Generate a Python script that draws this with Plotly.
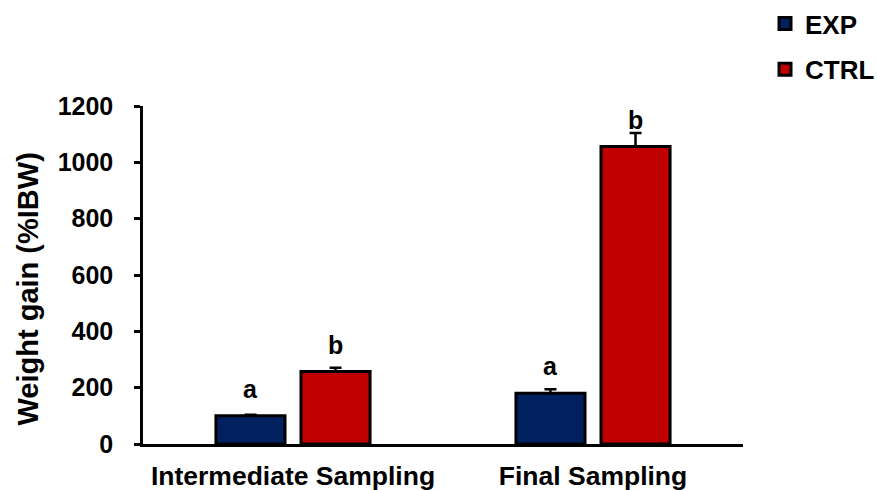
import plotly.graph_objects as go

categories = ["Intermediate Sampling", "Final Sampling"]
series_names = ["EXP", "CTRL"]
exp_values = [100, 180]
exp_errors = [4, 14]
ctrl_values = [257, 1056]
ctrl_errors = [14, 48]
exp_letters = ["a", "a"]
ctrl_letters = ["b", "b"]
y_ticks = [0, 200, 400, 600, 800, 1000, 1200]

EXP_COLOR = "#002060"
CTRL_COLOR = "#C00000"
FONT = "Liberation Sans, Arial, sans-serif"

fig = go.Figure()
for name, vals, errs, color in [
    (series_names[0], exp_values, exp_errors, EXP_COLOR),
    (series_names[1], ctrl_values, ctrl_errors, CTRL_COLOR),
]:
    fig.add_trace(go.Bar(
        name=name, x=categories, y=vals, legendgroup=name,
        marker=dict(color=color, line=dict(color="black", width=3)),
        error_y=dict(type="data", array=errs, arrayminus=[0] * len(errs),
                     symmetric=False, color="black", thickness=2.5, width=6),
    ))

# significance letters
for letters, vals, shift in [(exp_letters, exp_values, -42.5), (ctrl_letters, ctrl_values, 42.5)]:
    for cat, v, t in zip(categories, vals, letters):
        fig.add_annotation(x=cat, y=v, xref="x", yref="y", text=t, showarrow=False,
                           xshift=shift, yshift=11, yanchor="bottom",
                           font=dict(family=FONT, size=25, color="black", weight="bold"))

fig.add_annotation(text="Weight gain (%IBW)", xref="paper", yref="paper",
                   x=-0.1925, y=0.4586, textangle=-90, showarrow=False,
                   xanchor="center", yanchor="middle",
                   font=dict(family=FONT, size=29, color="black", weight="bold"))

fig.update_layout(
    width=877, height=490,
    margin=dict(l=143, r=134, t=106, b=46, autoexpand=False),
    paper_bgcolor="white", plot_bgcolor="white",
    barmode="group", bargap=0.433, bargroupgap=0.188,
    font=dict(family=FONT, color="black"),
    legend=dict(xref="container", yref="container", x=0.8723, y=1.0,
                xanchor="left", yanchor="top",
                font=dict(family=FONT, size=26, color="black", weight="bold"),
                tracegroupgap=9, itemwidth=30, bgcolor="rgba(0,0,0,0)"),
    showlegend=True,
)
fig.update_xaxes(showline=True, linecolor="black", linewidth=2.5, ticks="",
                 tickfont=dict(family=FONT, size=26.5, color="black", weight="bold"),
                 showgrid=False, ticklabelstandoff=6, automargin=False)
fig.update_yaxes(range=[0, 1200], tickvals=y_ticks, showline=True, linecolor="black",
                 linewidth=2.5, ticks="outside", ticklen=6, tickwidth=2.5, tickcolor="black",
                 tickfont=dict(family=FONT, size=25, color="black", weight="bold"),
                 showgrid=False, zeroline=False, ticklabelstandoff=16, automargin=False)

fig.write_html("out.html")
